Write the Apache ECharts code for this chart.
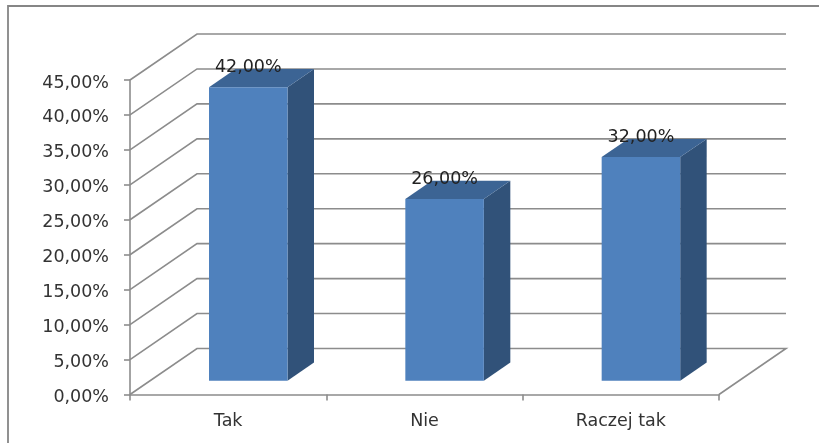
<!DOCTYPE html>
<html>
<head>
<meta charset="utf-8">
<style>html,body{margin:0;padding:0;background:#fff}#c{width:819px;height:443px;filter:blur(0.4px)}</style>
<script src="https://cdn.jsdelivr.net/npm/echarts@6/dist/echarts.min.js"></script>
</head>
<body>
<div id="c"></div>
<script>
var categories = ['Tak', 'Nie', 'Raczej tak'];
var shares = [42, 26, 32];
var yTicks = [0, 5, 10, 15, 20, 25, 30, 35, 40, 45];

var FONT = '"DejaVu Sans", Verdana, sans-serif';
var LINE = '#8c8c8c';
var DEPTH_X = 67, DEPTH_Y = -46;      // wall offset of the pseudo-3D box
var BAR_FRONT = 0.30, BAR_DEPTH = 0.395; // fractions of wall depth
var BAR_WIDTH = 0.40;                 // fraction of the category band

function fmt(v) { return v.toFixed(2).replace('.', ',') + '%'; }

var chart = echarts.init(document.getElementById('c'), null, { renderer: 'canvas' });

chart.setOption({
  animation: false,
  backgroundColor: '#fff',
  grid: { left: 130, right: 100, top: 80, bottom: 48.5, containLabel: false },
  graphic: [{
    type: 'polyline', silent: true, z: 0,
    shape: { points: [[8, 443], [8, 6], [819, 6]] },
    style: { fill: null, stroke: '#868686', lineWidth: 1.8 }
  }],
  xAxis: {
    type: 'category',
    data: categories,
    axisLine: { show: true, lineStyle: { color: LINE, width: 1.6 } },
    axisTick: { show: true, length: 6, alignWithLabel: false, lineStyle: { color: LINE, width: 1.6 } },
    axisLabel: { color: '#333', fontFamily: FONT, fontSize: 17.5, margin: 18 },
    splitLine: { show: false }
  },
  yAxis: {
    type: 'value', min: 0, max: 45, interval: 5,
    axisLine: { show: true, lineStyle: { color: LINE, width: 1.6 } },
    axisTick: { show: true, length: 6, lineStyle: { color: LINE, width: 1.6 } },
    axisLabel: { color: '#333', fontFamily: FONT, fontSize: 17.5, margin: 21, verticalAlign: 'top', lineHeight: 6, formatter: fmt },
    splitLine: { show: false }
  },
  series: [{
    type: 'custom', z: 1, silent: true,
    coordinateSystem: 'cartesian2d',
    data: yTicks.map(function (t) { return [0, t]; }),
    encode: { x: 0, y: 1 },
    renderItem: function (params, api) {
      var cs = params.coordSys, y = api.coord([0, api.value(1)])[1];
      var pts = [[cs.x, y], [cs.x + DEPTH_X, y + DEPTH_Y], [cs.x + cs.width + DEPTH_X, y + DEPTH_Y]];
      if (api.value(1) === 0) pts.push([cs.x + cs.width, y]);
      return { type: 'polyline', shape: { points: pts }, style: { fill: null, stroke: LINE, lineWidth: 1.6 } };
    }
  }, {
    type: 'custom', z: 2, silent: true,
    coordinateSystem: 'cartesian2d',
    data: categories.map(function (c, i) { return [i, shares[i]]; }),
    encode: { x: 0, y: 1 },
    renderItem: function (params, api) {
      var band = api.size([1, 0])[0];
      var c0 = api.coord([api.value(0), 0]);
      var c1 = api.coord([api.value(0), api.value(1)]);
      var w = band * BAR_WIDTH;
      var ox = DEPTH_X * BAR_FRONT, oy = DEPTH_Y * BAR_FRONT;
      var dx = DEPTH_X * BAR_DEPTH, dy = DEPTH_Y * BAR_DEPTH;
      var l = c0[0] - w / 2 + ox, r = l + w, b = c0[1] + oy, t = c1[1] + oy;
      return {
        type: 'group',
        children: [
          { type: 'polygon', shape: { points: [[r, b], [r + dx, b + dy], [r + dx, t + dy], [r, t]] }, style: { fill: '#315279' } },
          { type: 'polygon', shape: { points: [[l, t], [r, t], [r + dx, t + dy], [l + dx, t + dy]] }, style: { fill: '#3c6494' } },
          { type: 'rect', shape: { x: l, y: t, width: w, height: b - t }, style: { fill: '#4f81bd' } },
          { type: 'text', style: { text: fmt(api.value(1)), x: (l + r) / 2, y: t - 20, align: 'center', verticalAlign: 'middle', fill: '#222', font: '17.5px ' + FONT } }
        ]
      };
    }
  }]
});
</script>
</body>
</html>
